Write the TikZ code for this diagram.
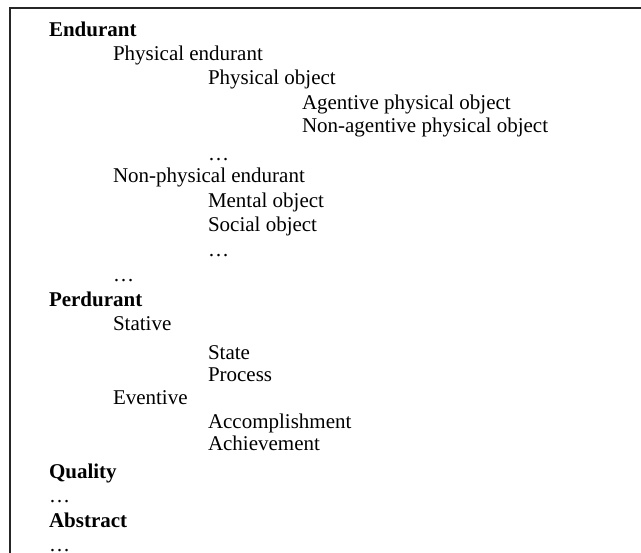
\documentclass[tikz,border=0pt]{standalone}
\usepackage{fontspec}
\setmainfont{Liberation Serif}
\usepackage{tikz}
\usetikzlibrary{positioning}

\begin{document}
\begin{tikzpicture}[x=1pt, y=-1pt,
    entry/.style={anchor=base west, inner sep=0pt, outer sep=0pt, font=\fontsize{21}{25}\selectfont},
    head/.style={entry, font=\fontsize{21}{25}\selectfont\bfseries},
    frame/.style={line width=2pt, draw=black!85}
    ]
    \useasboundingbox (0,0) rectangle (641,553);
    \def\indA{49}
    \def\indB{113}
    \def\indC{208}
    \def\indD{302}

    % open frame: top and left side only
    \coordinate (tl) at (9.5,8);
    \coordinate (tr) at (641,8);
    \coordinate (bl) at (9.5,553);
    \draw[frame] (tr) -- (tl) -- (bl);

    % the category list, one line per entry
    \foreach \st/\xx/\yy/\txt [count=\i] in {
        head/\indA/37/Endurant,
        entry/\indB/61/Physical endurant,
        entry/\indC/85/Physical object,
        entry/\indD/110/Agentive physical object,
        entry/\indD/133/Non-agentive physical object,
        entry/\indC/161/…,
        entry/\indB/183/Non-physical endurant,
        entry/\indC/208/Mental object,
        entry/\indC/232/Social object,
        entry/\indC/257/…,
        entry/\indB/282/…,
        head/\indA/307/Perdurant,
        entry/\indB/331/Stative,
        entry/\indC/360/State,
        entry/\indC/382/Process,
        entry/\indB/405/Eventive,
        entry/\indC/429/Accomplishment,
        entry/\indC/451/Achievement,
        head/\indA/479/Quality,
        entry/\indA/503/…,
        head/\indA/528/Abstract,
        entry/\indA/552/…} {
        \node[\st] (e\i) at (\xx,\yy) {\txt};
    }
\end{tikzpicture}
\end{document}
